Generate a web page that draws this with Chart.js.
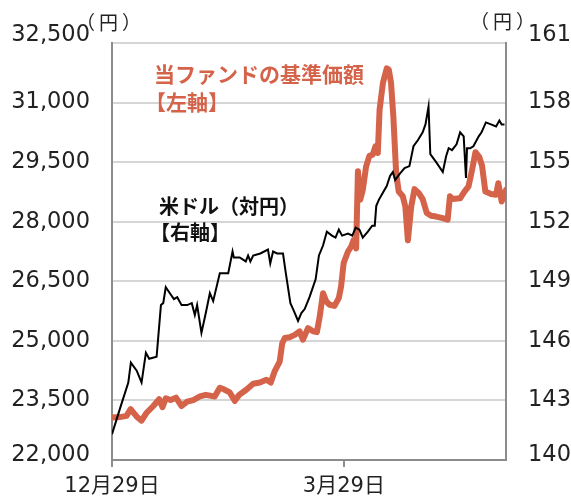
<!DOCTYPE html>
<html lang="ja">
<head>
<meta charset="utf-8">
<script src="https://cdn.jsdelivr.net/npm/chart.js@4.4.1/dist/chart.umd.min.js"></script>
<style>
body{margin:0;background:#fff;}
#wrap{position:relative;width:571px;height:498px;}
canvas{display:block;}
.note{position:absolute;font-family:"Noto Sans CJK JP",sans-serif;white-space:nowrap;line-height:1;}
.unit{font-size:19px;color:#222;letter-spacing:4px;}
</style>
</head>
<body>
<div id="wrap">
<canvas id="myChart" width="571" height="498"></canvas>
<div class="note unit" style="left:76px;top:12px;">（円）</div>
<div class="note unit" style="left:470px;top:11px;">（円）</div>
<div class="note" style="left:154px;top:63px;font-size:21px;font-weight:bold;color:#d5634a">当ファンドの基準価額</div>
<div class="note" style="left:145px;top:91px;font-size:21px;font-weight:bold;color:#d5634a">【左軸】</div>
<div class="note" style="left:159px;top:196px;font-size:20px;font-weight:bold;color:#111">米ドル（対円）</div>
<div class="note" style="left:150px;top:222px;font-size:20px;font-weight:bold;color:#111">【右軸】</div>
</div>
<script>
// x = days since 12/29
const tickDays = [0, 91];
const tickLabels = ['12月29日', '3月29日'];
const leftTicks = [22000, 23500, 25000, 26500, 28000, 29500, 31000, 32500];
const rightTicks = [140, 143, 146, 149, 152, 155, 158, 161];

// 米ドル（対円） right axis
const usdDays = [0, 3.4, 6.4, 7.4, 9.7, 11.6, 13.3, 14.6, 17.5, 19.2, 20.1, 21.1, 22.7, 24.3, 25.6, 27.3, 29.5, 31.3, 32.5, 33.4,
  35.1, 36.8, 38.4, 39.7, 42.3, 45.6, 47.3, 47.8, 50.1, 52.5, 53.4, 54.3, 55.4, 58.2, 61.2, 62.1, 63.2, 64.8, 67.1, 68.1,
  70.0, 71.4, 73.0, 74.3, 75.6, 77.5, 79.9, 81.2, 82.8, 84.3, 86.3, 87.7, 89.0, 90.3, 92.6, 94.3, 95.6, 97.1, 98.4, 100.4,
  102.1, 103.1, 103.7, 104.7, 106.0, 107.8, 109.1, 110.2, 111.1, 112.8, 114.8, 116.7, 118.3, 120.0, 121.9, 123.0, 124.2, 124.9, 127.2, 129.8,
  131.1, 132.1, 133.4, 135.2, 136.6, 138.0, 138.9, 139.3, 140.5, 141.8, 143.9, 145.0, 146.7, 148.7, 150.7, 152.0, 152.9, 154.0];
const usdJpy = [141.3, 142.7, 143.9, 144.9, 144.5, 143.9, 145.4, 145.1, 145.2, 147.8, 147.9, 148.7, 148.4, 148.1, 148.2, 147.8, 147.8, 147.9, 147.3, 147.8,
  146.4, 147.4, 148.4, 148.0, 149.4, 149.4, 150.5, 150.2, 150.2, 150.0, 150.3, 150.0, 150.3, 150.4, 150.6, 149.9, 150.5, 150.4, 150.4, 149.5,
  147.9, 147.5, 147.0, 147.4, 147.6, 148.2, 149.1, 150.3, 150.8, 151.5, 151.3, 151.2, 151.6, 151.3, 151.4, 151.3, 151.7, 151.6, 151.2, 151.5,
  151.8, 151.8, 152.8, 153.1, 153.4, 153.8, 154.3, 154.5, 154.1, 154.4, 154.7, 154.8, 155.8, 156.1, 156.5, 156.9, 157.8, 155.4, 155.0, 154.5,
  155.3, 155.7, 155.6, 155.9, 156.5, 156.3, 154.2, 155.7, 155.7, 155.8, 156.3, 156.5, 157.0, 156.9, 156.8, 157.1, 156.9, 156.9];

// 当ファンドの基準価額 left axis
const fundDays = [0, 3.1, 5.7, 7.3, 9.7, 11.6, 13.6, 16.2, 18.5, 19.8, 21.1, 23.0, 25.1, 27.3, 29.5, 31.9, 34.5, 36.8, 40.3, 42.3,
  43.9, 46.2, 48.2, 49.9, 52.7, 55.4, 58.0, 60.6, 62.3, 63.8, 65.8, 66.8, 67.8, 69.7, 71.7, 73.6, 74.9, 76.9, 78.9, 80.4,
  81.5, 82.8, 84.1, 85.4, 87.3, 89.0, 89.9, 90.9, 92.6, 93.9, 94.8, 95.8, 96.5, 97.4, 98.4, 99.7, 101.0, 102.3, 103.4, 104.3,
  105.0, 106.3, 107.8, 108.6, 109.5, 110.4, 111.5, 112.5, 114.1, 115.1, 116.1, 117.4, 118.7, 120.4, 121.9, 123.5, 125.2, 127.2, 129.8, 131.7,
  132.6, 133.7, 136.6, 138.3, 139.9, 141.3, 142.6, 144.1, 145.2, 146.5, 148.7, 150.7, 151.6, 152.9, 154.6];
const fundNav = [23070, 23080, 23110, 23280, 23090, 22990, 23190, 23360, 23530, 23330, 23555, 23510, 23570, 23360, 23470, 23510, 23600, 23640, 23600, 23820,
  23780, 23700, 23490, 23640, 23770, 23920, 23950, 24020, 23950, 24230, 24480, 24940, 25070, 25090, 25150, 25240, 25030, 25320, 25240, 25220,
  25610, 26200, 25990, 25910, 25880, 26080, 26370, 26960, 27250, 27380, 27540, 27330, 29270, 28550, 28800, 29390, 29660, 29690, 29900, 29730,
  30820, 31490, 31860, 31830, 31490, 30650, 29220, 28760, 28640, 28380, 27530, 28380, 28820, 28720, 28570, 28220, 28150, 28130, 28090, 28050,
  28640, 28570, 28590, 28760, 28890, 29310, 29750, 29630, 29410, 28760, 28700, 28680, 28970, 28510, 28800];

const axisGray = '#8c8c8c';
// end labels sit a little above their gridlines: top ~8px, bottom ~5px
const numFont = c => ({
    family: '"DejaVu Sans", sans-serif', size: 22.5,
    lineHeight: c.index === 0 ? 10 / 22.5 : 16 / 22.5
});

function pairs(xs, ys) {
    return xs.map((x, i) => ({x: x, y: ys[i]}));
}
function endShift(list) {
    return v => {
        const s = v.toLocaleString('en-US');
        return (v === list[0] || v === list[list.length - 1]) ? [s, ''] : s;
    };
}

const ctx = document.getElementById('myChart');
new Chart(ctx, {
    type: 'line',
    data: {
        datasets: [{
            data: pairs(usdDays, usdJpy),
            yAxisID: 'y2',
            borderColor: '#000',
            borderWidth: 2,
            pointRadius: 0,
            tension: 0
        }, {
            data: pairs(fundDays, fundNav),
            yAxisID: 'y',
            borderColor: '#d5634a',
            borderWidth: 6,
            borderJoinStyle: 'round',
            borderCapStyle: 'round',
            pointRadius: 0,
            tension: 0
        }]
    },
    options: {
        responsive: false,
        animation: false,
        layout: {padding: {top: 43, left: 0, right: 0, bottom: 0}},
        plugins: {legend: {display: false}, tooltip: {enabled: false}},
        scales: {
            x: {
                type: 'linear', min: 0, max: 154.6,
                afterBuildTicks: s => { s.ticks = tickDays.map(v => ({value: v})); },
                afterFit: s => { s.height = 38; },
                ticks: {
                    callback: v => tickLabels[tickDays.indexOf(v)],
                    autoSkip: false, maxRotation: 0, padding: 7, color: '#222',
                    font: {family: '"DejaVu Sans", "Noto Sans CJK JP", sans-serif', size: 21}
                },
                grid: {drawOnChartArea: false, tickLength: 7, color: axisGray, lineWidth: 2},
                border: {color: axisGray, width: 2}
            },
            y: {
                position: 'left', min: 22000, max: 32500,
                afterBuildTicks: s => { s.ticks = leftTicks.map(v => ({value: v})); },
                afterFit: s => { s.width = 112; },
                ticks: {callback: endShift(leftTicks), padding: 22, color: '#222', font: numFont},
                grid: {color: '#d6d6d6', lineWidth: 2, drawTicks: false},
                border: {color: axisGray, width: 2}
            },
            y2: {
                position: 'right', min: 140, max: 161,
                afterBuildTicks: s => { s.ticks = rightTicks.map(v => ({value: v})); },
                afterFit: s => { s.width = 65; },
                ticks: {callback: endShift(rightTicks), padding: 22, color: '#222', font: numFont},
                grid: {drawOnChartArea: false, drawTicks: false},
                border: {color: axisGray, width: 2}
            }
        }
    }
});
</script>
</body>
</html>
